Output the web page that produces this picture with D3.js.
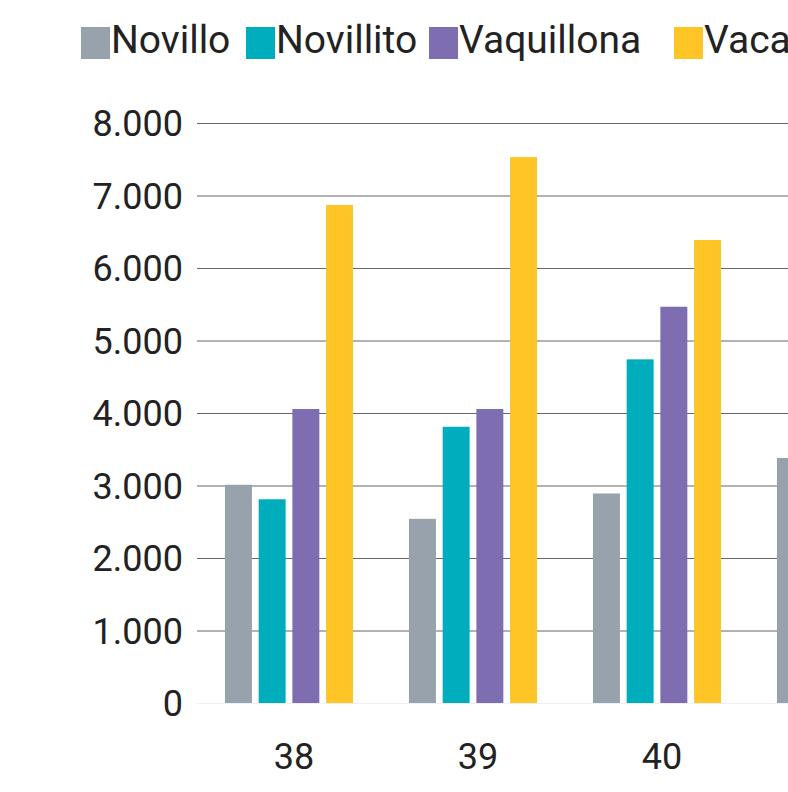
<!DOCTYPE html>
<html>
<head>
<meta charset="utf-8">
<script src="https://cdn.jsdelivr.net/npm/d3@7"></script>
<style>
  body { margin: 0; background: #fff; overflow: hidden; }
  svg { display: block; font-family: Roboto, "Noto Sans", sans-serif; }
</style>
</head>
<body>
<div id="chart"></div>
<script>
// data (last week is cut off on the right)
var weeks = ["38", "39", "40", "41"];
var seriesNames = ["Novillo", "Novillito", "Vaquillona", "Vaca"];
var novillo = [3010, 2540, 2890, 3380];
var novillito = [2810, 3810, 4740, null];
var vaquillona = [4055, 4055, 5466, null];
var vaca = [6870, 7530, 6386, null];
var yTicks = [0, 1000, 2000, 3000, 4000, 5000, 6000, 7000, 8000];

var colors = ["#97a2ad", "#00adbc", "#7e6db1", "#ffc425"];
var seriesValues = [novillo, novillito, vaquillona, vaca];

var svgWidth = 788;
var svgHeight = 792;

var svg = d3.select("#chart")
    .append("svg")
    .attr("width", svgWidth)
    .attr("height", svgHeight);

// scales
var x0 = d3.scaleBand()
    .domain(weeks)
    .range([197, 197 + 184 * weeks.length])
    .paddingInner(0.304)
    .paddingOuter(0.152);

var x1 = d3.scaleBand()
    .domain(seriesNames)
    .range([0, x0.bandwidth()])
    .paddingInner(0.2)
    .paddingOuter(0);

var y = d3.scaleLinear()
    .domain([0, 8000])
    .range([703, 123]);

var color = d3.scaleOrdinal()
    .domain(seriesNames)
    .range(colors);

var fmt = d3.formatLocale({ decimal: ",", thousands: ".", grouping: [3], currency: ["$", ""] }).format(",d");

// gridlines + y labels
var yAxis = d3.axisLeft(y)
    .tickValues(yTicks)
    .tickSize(-(svgWidth - 197))
    .tickPadding(14)
    .tickFormat(fmt);

var yG = svg.append("g")
    .attr("transform", "translate(197,0)")
    .call(yAxis);

yG.select(".domain").remove();
yG.selectAll(".tick line")
    .attr("stroke", function(d) { return d === 0 ? "#eef0f8" : "#666"; })
    .attr("stroke-width", 1);
yG.selectAll(".tick text")
    .attr("font-size", "36px")
    .attr("font-family", "Roboto, sans-serif")
    .attr("fill", "#222")
    .attr("dy", "0.36em");

// bars
var rows = [];
weeks.forEach(function(w, i) {
    seriesNames.forEach(function(s, j) {
        if (seriesValues[j][i] != null) {
            rows.push({ week: w, series: s, value: seriesValues[j][i] });
        }
    });
});

svg.append("g")
    .selectAll("rect")
    .data(rows)
    .enter()
    .append("rect")
    .attr("x", function(d) { return x0(d.week) + x1(d.series); })
    .attr("y", function(d) { return y(d.value); })
    .attr("width", x1.bandwidth())
    .attr("height", function(d) { return y(0) - y(d.value); })
    .attr("fill", function(d) { return color(d.series); });

// x labels (only the ones inside the frame)
var xAxis = d3.axisBottom(x0)
    .tickValues(weeks.filter(function(w) { return x0(w) + x0.bandwidth() < svgWidth; }))
    .tickSize(0)
    .tickPadding(0);
var xG = svg.append("g")
    .attr("transform", "translate(5,703)")
    .call(xAxis);
xG.select(".domain").remove();
xG.selectAll(".tick text")
    .attr("font-size", "36px")
    .attr("font-family", "Roboto, sans-serif")
    .attr("fill", "#222")
    .attr("y", 66)
    .attr("dy", 0);

// legend
var legendX = [81, 246, 429, 674];
var legend = svg.append("g")
    .selectAll("g")
    .data(seriesNames)
    .enter()
    .append("g")
    .attr("transform", function(d, i) { return "translate(" + legendX[i] + ",0)"; });

legend.append("rect")
    .attr("x", 0)
    .attr("y", 27)
    .attr("width", 29)
    .attr("height", 32)
    .attr("fill", function(d) { return color(d); });

legend.append("text")
    .attr("x", 30)
    .attr("y", 53)
    .attr("font-size", "39px")
    .attr("fill", "#222")
    .text(function(d) { return d; });
</script>
</body>
</html>
